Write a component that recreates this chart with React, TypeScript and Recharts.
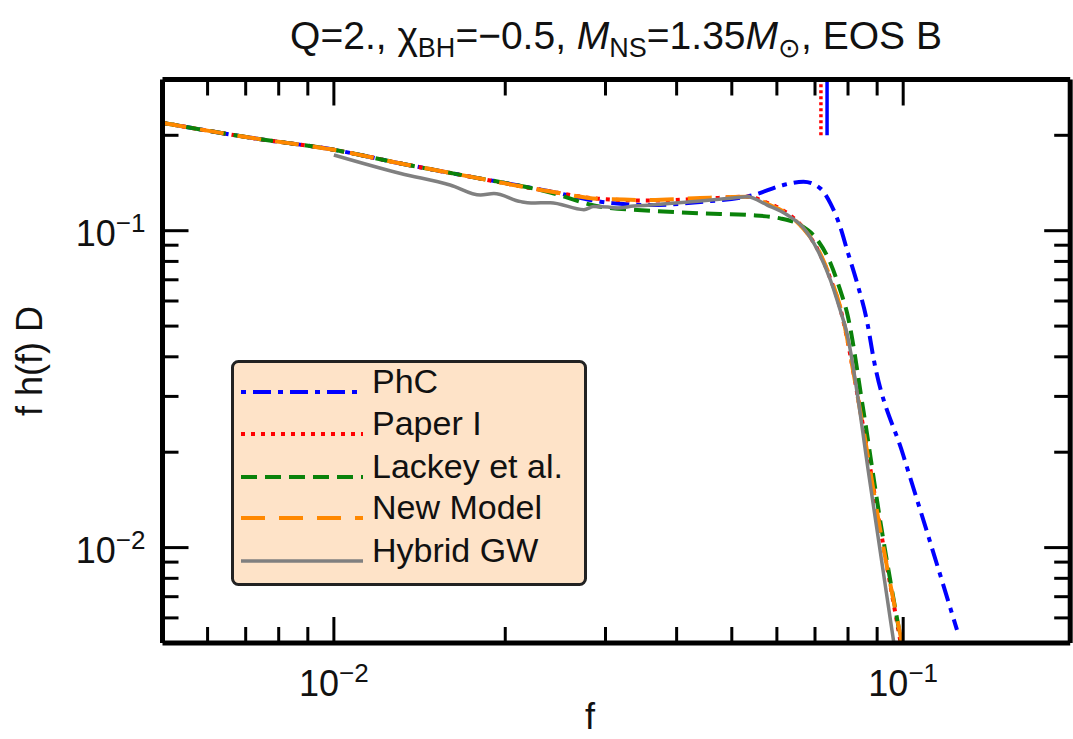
import React from 'react';
import { Label, Legend, Line, LineChart, XAxis, YAxis } from 'recharts';

type Pt = [number, number];

const FONT = '"Liberation Sans", Arial, Helvetica, sans-serif';

// tick positions (majors are the decades, the rest are minor ticks)
const X_TICKS = [0.006, 0.007, 0.008, 0.009, 0.01, 0.02, 0.03, 0.04, 0.05, 0.06, 0.07, 0.08, 0.09, 0.1];
const Y_TICKS = [0.006, 0.007, 0.008, 0.009, 0.01, 0.02, 0.03, 0.04, 0.05, 0.06, 0.07, 0.08, 0.09, 0.1, 0.2];

// [f, f h(f) D]
const PHC: Pt[] = [
  [0.005, 0.219], [0.0072, 0.196], [0.01, 0.18], [0.0131, 0.163], [0.0167, 0.15], [0.024, 0.133],
  [0.0294, 0.1235], [0.036, 0.1205], [0.044, 0.1232], [0.0546, 0.1296], [0.0616, 0.1394],
  [0.0668, 0.1428], [0.0715, 0.136], [0.0745, 0.122], [0.0775, 0.1029], [0.0797, 0.0869],
  [0.083, 0.0684], [0.0865, 0.0512], [0.0886, 0.04], [0.1, 0.0196], [0.1102, 0.01116], [0.1243, 0.0055],
];

const PAPER_I: Pt[] = [
  [0.005, 0.219], [0.0072, 0.196], [0.01, 0.18], [0.0131, 0.163], [0.0167, 0.15], [0.024, 0.133],
  [0.0294, 0.126], [0.036, 0.1245], [0.044, 0.126], [0.0532, 0.128], [0.0577, 0.1225],
  [0.0626, 0.1135], [0.0668, 0.102], [0.0707, 0.0875], [0.0745, 0.0705], [0.0775, 0.057],
  [0.0841, 0.027], [0.0911, 0.0116], [0.099, 0.005],
];

const LACKEY: Pt[] = [
  [0.005, 0.219], [0.0072, 0.196], [0.01, 0.18], [0.0131, 0.163], [0.0167, 0.15], [0.024, 0.132],
  [0.0294, 0.119], [0.036, 0.1156], [0.044, 0.1135], [0.0539, 0.112], [0.0608, 0.1094],
  [0.0659, 0.1042], [0.0707, 0.0935], [0.0745, 0.0791], [0.0775, 0.065], [0.0797, 0.055],
  [0.0851, 0.0272], [0.0911, 0.0122], [0.0993, 0.005],
];

const NEW_MODEL: Pt[] = [
  [0.005, 0.219], [0.0072, 0.196], [0.01, 0.18], [0.0131, 0.163], [0.0167, 0.15], [0.024, 0.133],
  [0.0294, 0.126], [0.036, 0.125], [0.044, 0.1268], [0.0539, 0.128], [0.0577, 0.1215],
  [0.0626, 0.113], [0.0668, 0.1015], [0.0707, 0.088], [0.0745, 0.071], [0.0775, 0.0575],
  [0.0841, 0.0268], [0.0911, 0.0114], [0.0995, 0.005],
];

const HYBRID: Pt[] = [
  [0.01, 0.1733], [0.0131, 0.1515], [0.016, 0.1394], [0.0181, 0.1295], [0.0191, 0.131],
  [0.0213, 0.1235], [0.0222, 0.1223], [0.024, 0.1226], [0.0275, 0.1165], [0.0286, 0.1192],
  [0.0303, 0.1188], [0.0315, 0.1179], [0.0336, 0.1196], [0.036, 0.1205], [0.044, 0.124],
  [0.0503, 0.1268], [0.0532, 0.128], [0.0577, 0.1205], [0.0626, 0.1121], [0.0668, 0.102],
  [0.0707, 0.0869], [0.0745, 0.0699], [0.0775, 0.0562], [0.0794, 0.0486], [0.0875, 0.0159],
  [0.0963, 0.005],
];

// cut-off frequency markers at the top of the frame
const MARK_PAPER_I: Pt[] = [[0.0717, 0.2], [0.0717, 0.3]];
const MARK_PHC: Pt[] = [[0.0735, 0.2], [0.0735, 0.3]];

const SERIES = [
  { name: 'PhC', data: PHC, color: '#0000ff', dash: '5 7 18 7', width: 4 },
  { name: 'Paper I', data: PAPER_I, color: '#ff0000', dash: '4 6', width: 4 },
  { name: 'Lackey et al.', data: LACKEY, color: '#0a820a', dash: '16 8', width: 4 },
  { name: 'New Model', data: NEW_MODEL, color: '#ff8800', dash: '24 14', width: 4 },
  { name: 'Hybrid GW', data: HYBRID, color: '#808080', dash: undefined, width: 3.5 },
];

const rows = (pts: Pt[]) => pts.map(([f, v]) => ({ f, v }));

const isMajor = (v: number) => Math.abs(Math.log10(v) - Math.round(Math.log10(v))) < 1e-6;

function Pow({ v, x, y, anchor }: { v: number; x: number; y: number; anchor: 'middle' | 'end' }) {
  const e = Math.round(Math.log10(v));
  return (
    <text x={x} y={y} textAnchor={anchor} fontSize={36} fill="#111" fontFamily={FONT}>
      10
      <tspan dy={-14} fontSize={26}>{'\u2212' + String(-e)}</tspan>
    </text>
  );
}

const tickFor = (side: 'bottom' | 'top' | 'left' | 'right') => (p: any) => {
  const { x, y, payload } = p;
  const major = isMajor(payload.value);
  const len = major ? 26 : 16;
  let line;
  if (side === 'bottom') line = <line x1={x} x2={x} y1={y} y2={y - len} stroke="#000" strokeWidth={3} />;
  else if (side === 'top') line = <line x1={x} x2={x} y1={y} y2={y + len} stroke="#000" strokeWidth={3} />;
  else if (side === 'left') line = <line x1={x} x2={x + len} y1={y} y2={y} stroke="#000" strokeWidth={3} />;
  else line = <line x1={x} x2={x - len} y1={y} y2={y} stroke="#000" strokeWidth={3} />;
  return (
    <g>
      {line}
      {major && side === 'bottom' && <Pow v={payload.value} x={x} y={y + 53} anchor="middle" />}
      {major && side === 'left' && <Pow v={payload.value} x={x - 17} y={y + 15} anchor="end" />}
    </g>
  );
};

const Title = () => (
  <text x={616} y={49} textAnchor="middle" fontSize={39} fill="#111" fontFamily={FONT}>
    <tspan>{'Q=2., \u03c7'}</tspan>
    <tspan dy={8} fontSize={27}>BH</tspan>
    <tspan dy={-8}>{'=\u22120.5, '}</tspan>
    <tspan fontStyle="italic">M</tspan>
    <tspan dy={8} fontSize={27}>NS</tspan>
    <tspan dy={-8}>=1.35</tspan>
    <tspan fontStyle="italic">M</tspan>
    <tspan dy={8} fontSize={27}>{'\u2299'}</tspan>
    <tspan dy={-8}>, EOS B</tspan>
  </text>
);

const LegendBox = () => {
  const lineY = [32, 74, 117, 158, 201];
  return (
    <svg width={356} height={226} style={{ display: 'block' }}>
      <rect x={1.5} y={1.5} width={353} height={223} rx={6} fill="#fee3c8" stroke="#222" strokeWidth={3} />
      {SERIES.map((s, i) => (
        <g key={s.name}>
          <line x1={10} x2={132} y1={lineY[i]} y2={lineY[i]} stroke={s.color} strokeWidth={s.width}
            strokeDasharray={s.dash} />
          <text x={141} y={lineY[i] + 1} fontSize={34} fill="#111" fontFamily={FONT}>{s.name}</text>
        </g>
      ))}
    </svg>
  );
};

export default function App() {
  const axisLine = { stroke: '#000', strokeWidth: 5 };
  return (
    <div style={{ position: 'absolute', left: 0, top: 0 }}>
      <LineChart width={1073} height={739} margin={{ top: 0, right: 0, bottom: 0, left: 0 }}>
        <XAxis dataKey="f" type="number" scale="log" domain={[0.005, 0.1965]} allowDataOverflow
          ticks={X_TICKS} interval={0} tickSize={0} tickMargin={0} tickLine={false}
          axisLine={axisLine} height={96} tick={tickFor('bottom')}>
          <Label content={() => (
            <text x={590} y={729} textAnchor="middle" fontSize={36} fill="#111" fontFamily={FONT}>f</text>
          )} />
        </XAxis>
        <XAxis xAxisId="top" orientation="top" dataKey="f" type="number" scale="log" domain={[0.005, 0.1965]}
          allowDataOverflow ticks={X_TICKS} interval={0} tickSize={0} tickMargin={0} tickLine={false}
          axisLine={axisLine} height={79.5} tick={tickFor('top')}>
          <Label content={() => <Title />} />
        </XAxis>
        <YAxis type="number" scale="log" domain={[0.005, 0.3]} allowDataOverflow ticks={Y_TICKS}
          interval={0} tickSize={0} tickMargin={0} tickLine={false} axisLine={axisLine} width={162.5}
          tick={tickFor('left')}>
          <Label content={() => (
            <text x={42} y={361} textAnchor="middle" fontSize={36} fill="#111" fontFamily={FONT}
              transform="rotate(-90 42 361)">f h(f) D</text>
          )} />
        </YAxis>
        <YAxis yAxisId="right" orientation="right" type="number" scale="log" domain={[0.005, 0.3]}
          allowDataOverflow ticks={Y_TICKS} interval={0} tickSize={0} tickMargin={0} tickLine={false}
          axisLine={axisLine} width={2.8} tick={tickFor('right')} />
        <Legend layout="vertical" align="center" verticalAlign="middle" content={() => <LegendBox />}
          wrapperStyle={{ left: 231, top: 360, width: 356, height: 226 }} />
        {SERIES.map((s) => (
          <Line key={s.name} data={rows(s.data)} dataKey="v" name={s.name} type="monotone"
            stroke={s.color} strokeWidth={s.width} strokeDasharray={s.dash} dot={false}
            activeDot={false} isAnimationActive={false} />
        ))}
        <Line data={rows(MARK_PAPER_I)} dataKey="v" type="linear" stroke="#ff0000" strokeWidth={3.5}
          strokeDasharray="3 3" dot={false} activeDot={false} isAnimationActive={false} legendType="none" />
        <Line data={rows(MARK_PHC)} dataKey="v" type="linear" stroke="#0000ff" strokeWidth={3.5}
          dot={false} activeDot={false} isAnimationActive={false} legendType="none" />
      </LineChart>
    </div>
  );
}
